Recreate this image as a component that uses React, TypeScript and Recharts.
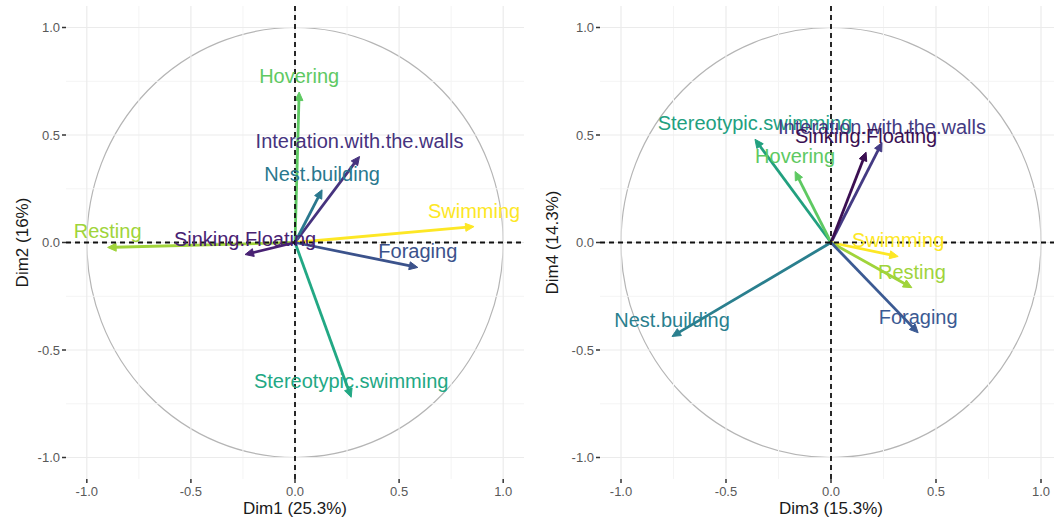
import React from 'react';
import {
  ScatterChart,
  Scatter,
  XAxis,
  YAxis,
  ReferenceLine,
  ReferenceArea,
  Label,
} from 'recharts';

// Dim1 / Dim2 panel
const leftNames = [
  'Hovering',
  'Interation.with.the.walls',
  'Nest.building',
  'Swimming',
  'Resting',
  'Sinking.Floating',
  'Foraging',
  'Stereotypic.swimming',
];
const dim1 = [0.02, 0.31, 0.13, 0.86, -0.9, -0.24, 0.59, 0.27];
const dim2 = [0.7, 0.4, 0.245, 0.074, -0.023, -0.056, -0.116, -0.72];
const leftColors = ['#5ec962', '#46337e', '#2a788e', '#fde725', '#a0d43a', '#482173', '#3b528b', '#22a884'];

// Dim3 / Dim4 panel
const rightNames = [
  'Stereotypic.swimming',
  'Hovering',
  'Interation.with.the.walls',
  'Sinking:Floating',
  'Swimming',
  'Resting',
  'Foraging',
  'Nest.building',
];
const dim3 = [-0.362, -0.171, 0.243, 0.167, 0.32, 0.385, 0.415, -0.757];
const dim4 = [0.48, 0.33, 0.465, 0.42, -0.065, -0.21, -0.42, -0.437];
const rightColors = ['#22a07f', '#5ec962', '#443a83', '#3b0f52', '#fde725', '#a0d43a', '#3b5a93', '#2a7f8e'];

const axisTicks = [-1, -0.5, 0, 0.5, 1];
const majorGrid = [-1, -0.5, 0, 0.5, 1];
const minorGrid = [-0.75, -0.25, 0.25, 0.75];

const FONT = '"Liberation Sans", Arial, Helvetica, sans-serif';

const arrowShape = (color: string) => (props: any) => {
  const { x1, y1, x2, y2 } = props;
  const a = Math.atan2(y2 - y1, x2 - x1);
  const len = 8.5;
  const half = 4;
  const bx = x2 - len * Math.cos(a);
  const by = y2 - len * Math.sin(a);
  const px = -Math.sin(a) * half;
  const py = Math.cos(a) * half;
  const lx = x2 - (len - 2) * Math.cos(a);
  const ly = y2 - (len - 2) * Math.sin(a);
  return (
    <g>
      <line x1={x1} y1={y1} x2={lx} y2={ly} stroke={color} strokeWidth={2.8} />
      <polygon points={`${x2},${y2} ${bx + px},${by + py} ${bx - px},${by - py}`} fill={color} stroke={color} strokeWidth={1} strokeLinejoin="miter" />
    </g>
  );
};

const circleShape = (props: any) => {
  const { x, y, width, height } = props;
  return (
    <ellipse
      cx={x + width / 2}
      cy={y + height / 2}
      rx={width / 2}
      ry={height / 2}
      fill="none"
      stroke="#b5b5b5"
      strokeWidth={1.2}
    />
  );
};

interface PanelProps {
  names: string[];
  xs: number[];
  ys: number[];
  colors: string[];
  xTitle: string;
  yTitle: string;
  width: number;
  yAxisWidth: number;
  rightMargin: number;
}

function BiplotPanel({ names, xs, ys, colors, xTitle, yTitle, width, yAxisWidth, rightMargin }: PanelProps) {
  const rows = names.map((name, i) => ({ name, x: xs[i], y: ys[i], idx: i }));

  const labelShape = (p: any) => (
    <text
      x={p.cx}
      y={p.cy - 16}
      dy="0.35em"
      textAnchor="middle"
      fill={colors[p.payload.idx]}
      fontSize={20}
      fontFamily={FONT}
    >
      {p.payload.name}
    </text>
  );

  return (
    <ScatterChart width={width} height={521} margin={{ top: 6, right: rightMargin, bottom: 0, left: 0 }}>
      <XAxis
        type="number"
        dataKey="x"
        domain={[-1.1, 1.1]}
        allowDataOverflow
        ticks={axisTicks}
        tickFormatter={(v: number) => v.toFixed(1)}
        axisLine={false}
        tickSize={4}
        tickMargin={4}
        tickLine={{ stroke: '#333', strokeWidth: 1.5 }}
        tick={{ fill: '#595959', fontSize: 13, fontFamily: FONT }}
        height={42}
      >
        <Label
          content={(lp: any) => {
            const vb = lp.viewBox;
            return (
              <text x={vb.x + vb.width / 2} y={vb.y + 29} dy="0.35em" textAnchor="middle" fontSize={17} fill="#1a1a1a" fontFamily={FONT}>
                {xTitle}
              </text>
            );
          }}
        />
      </XAxis>
      <YAxis
        type="number"
        dataKey="y"
        domain={[-1.1, 1.1]}
        allowDataOverflow
        ticks={axisTicks}
        tickFormatter={(v: number) => v.toFixed(1)}
        axisLine={false}
        tickSize={4}
        tickMargin={2}
        tickLine={{ stroke: '#333', strokeWidth: 1.5 }}
        tick={{ fill: '#595959', fontSize: 13, fontFamily: FONT }}
        width={yAxisWidth}
      >
        <Label
          content={(lp: any) => {
            const vb = lp.viewBox;
            const cx = vb.x + 22;
            const cy = vb.y + vb.height / 2;
            return (
              <text x={cx} y={cy} dy="0.35em" textAnchor="middle" fontSize={17} fill="#1a1a1a" fontFamily={FONT} transform={`rotate(-90 ${cx} ${cy})`}>
                {yTitle}
              </text>
            );
          }}
        />
      </YAxis>

      {minorGrid.map((v) => (
        <ReferenceLine key={`mx${v}`} x={v} stroke="#f4f4f4" strokeWidth={1} />
      ))}
      {minorGrid.map((v) => (
        <ReferenceLine key={`my${v}`} y={v} stroke="#f4f4f4" strokeWidth={1} />
      ))}
      {majorGrid.map((v) => (
        <ReferenceLine key={`gx${v}`} x={v} stroke="#ebebeb" strokeWidth={1.2} />
      ))}
      {majorGrid.map((v) => (
        <ReferenceLine key={`gy${v}`} y={v} stroke="#ebebeb" strokeWidth={1.2} />
      ))}

      <ReferenceArea x1={-1} x2={1} y1={-1} y2={1} shape={circleShape} />

      {rows.map((r) => (
        <ReferenceLine
          key={`a${r.idx}`}
          segment={[{ x: 0, y: 0 }, { x: r.x, y: r.y }]}
          shape={arrowShape(colors[r.idx])}
        />
      ))}

      <Scatter data={rows} shape={labelShape} isAnimationActive={false} />

      <ReferenceLine x={0} stroke="#111" strokeWidth={1.8} strokeDasharray="5 4" />
      <ReferenceLine y={0} stroke="#111" strokeWidth={1.8} strokeDasharray="5 4" />
    </ScatterChart>
  );
}

export default function App() {
  return (
    <div
      style={{
        position: 'absolute',
        left: 0,
        top: 0,
        width: 1054,
        height: 521,
        overflow: 'hidden',
        background: '#fff',
      }}
    >
      <div style={{ position: 'absolute', left: 0, top: 0 }}>
        <BiplotPanel
          names={leftNames}
          xs={dim1}
          ys={dim2}
          colors={leftColors}
          xTitle="Dim1 (25.3%)"
          yTitle="Dim2 (16%)"
          width={530}
          yAxisWidth={66}
          rightMargin={6}
        />
      </div>
      <div style={{ position: 'absolute', left: 530, top: 0 }}>
        <BiplotPanel
          names={rightNames}
          xs={dim3}
          ys={dim4}
          colors={rightColors}
          xTitle="Dim3 (15.3%)"
          yTitle="Dim4 (14.3%)"
          width={532}
          yAxisWidth={70}
          rightMargin={0}
        />
      </div>
    </div>
  );
}
